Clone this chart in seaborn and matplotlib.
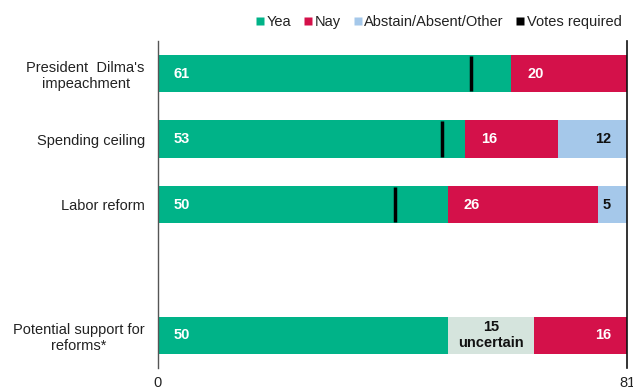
import matplotlib
matplotlib.use("Agg")
import matplotlib.pyplot as plt
from matplotlib.lines import Line2D
import seaborn as sns
import pandas as pd

# ---- data ----
categories = ["President  Dilma's\nimpeachment", "Spending ceiling",
              "Labor reform", "Potential support for\nreforms*"]
yea = [61, 53, 50, 50]
nay = [20, 16, 26, 16]
other = [0, 12, 5, 0]
uncertain = [0, 0, 0, 15]
votes_required = [54, 49, 41]
x_ticks = [0, 81]
legend_labels = ["Yea", "Nay", "Abstain/Absent/Other", "Votes required"]

# segment sequence per row (left to right)
row_segments = [["Yea", "Nay", "Other"], ["Yea", "Nay", "Other"],
                ["Yea", "Nay", "Other"], ["Yea", "Uncertain", "Nay"]]
values = {"Yea": yea, "Nay": nay, "Other": other, "Uncertain": uncertain}

colors = {"Yea": "#00B388", "Nay": "#D4114A", "Other": "#A5C8EA",
          "Uncertain": "#D5E4DD"}
text_colors = {"Yea": "white", "Nay": "white", "Other": "#111111",
               "Uncertain": "#111111"}

order = [categories[0], categories[1], categories[2], " ", categories[3]]

recs = []
for i, cat in enumerate(categories):
    left = 0
    segs = row_segments[i]
    for k, seg in enumerate(segs):
        v = values[seg][i]
        recs.append(dict(cat=cat, segment=seg, value=v, left=left,
                         end=left + v, rank=k, last=(k == len(segs) - 1)))
        left += v
df = pd.DataFrame(recs)

plt.rcParams["font.family"] = ["Liberation Sans", "DejaVu Sans"]
fig = plt.figure(figsize=(6.33, 3.92), dpi=100)
ax = fig.add_axes([158 / 633, 1 - 368 / 392, (627 - 158) / 633, (368 - 41) / 392])

for rank in [2, 1, 0]:
    sub = df[(df["rank"] == rank) & (df["value"] > 0)]
    sns.barplot(data=sub, x="end", y="cat", hue="segment", order=order,
                hue_order=["Other", "Nay", "Uncertain", "Yea"], palette=colors,
                dodge=False, width=0.57, saturation=1, linewidth=0,
                errorbar=None, legend=False, ax=ax)

# labels
pos = {c: order.index(c) for c in categories}
for _, r in df[df["value"] > 0].iterrows():
    y = pos[r["cat"]]
    seg = r["segment"]
    if seg == "Uncertain":
        ax.annotate(f"{r['value']}\nuncertain", xy=((r["left"] + r["end"]) / 2, y),
                    ha="center", va="center", fontsize=10.5, fontweight="bold",
                    color=text_colors[seg], linespacing=1.2)
    elif r["last"]:
        ax.annotate(f"{r['value']}", xy=(r["end"], y), xytext=(-16, 0),
                    textcoords="offset pixels", ha="right", va="center",
                    fontsize=10.5, fontweight="bold", color=text_colors[seg])
    else:
        ax.annotate(f"{r['value']}", xy=(r["left"], y), xytext=(16, 0),
                    textcoords="offset pixels", ha="left", va="center",
                    fontsize=10.5, fontweight="bold", color=text_colors[seg])

# votes required markers
for i, v in enumerate(votes_required):
    y = pos[categories[i]]
    ax.vlines(v, y - 0.27, y + 0.27, color="black", linewidth=2.5, zorder=5)

ax.set_xlim(0, 81)
ax.set_ylim(4.5, -0.5)
ax.set_xticks(x_ticks)
ax.set_xticklabels([str(t) for t in x_ticks])
ax.set_xlabel("")
ax.set_ylabel("")
ax.tick_params(axis="both", length=0, labelsize=10.5, colors="#222222")
ax.tick_params(axis="x", pad=6)
ax.tick_params(axis="y", pad=9.5)
for lbl in ax.get_yticklabels():
    lbl.set_multialignment("center")
for s in ["top", "bottom"]:
    ax.spines[s].set_visible(False)
ax.spines["left"].set_color("#555555")
ax.spines["left"].set_linewidth(1.0)
ax.spines["right"].set_visible(True)
ax.spines["right"].set_color("#111111")
ax.spines["right"].set_linewidth(1.2)

handles = [Line2D([], [], marker="s", linestyle="none", markersize=5.2,
                  markerfacecolor=c, markeredgecolor="none")
           for c in [colors["Yea"], colors["Nay"], colors["Other"], "black"]]
fig.legend(handles, legend_labels, loc="center right", bbox_to_anchor=(0.994, 1 - 22 / 392),
           ncol=4, frameon=False, fontsize=10.5, handlelength=0.5,
           handletextpad=0.2, columnspacing=0.9, borderpad=0,
           labelcolor="#222222")

fig.savefig("out.png", dpi=100)
